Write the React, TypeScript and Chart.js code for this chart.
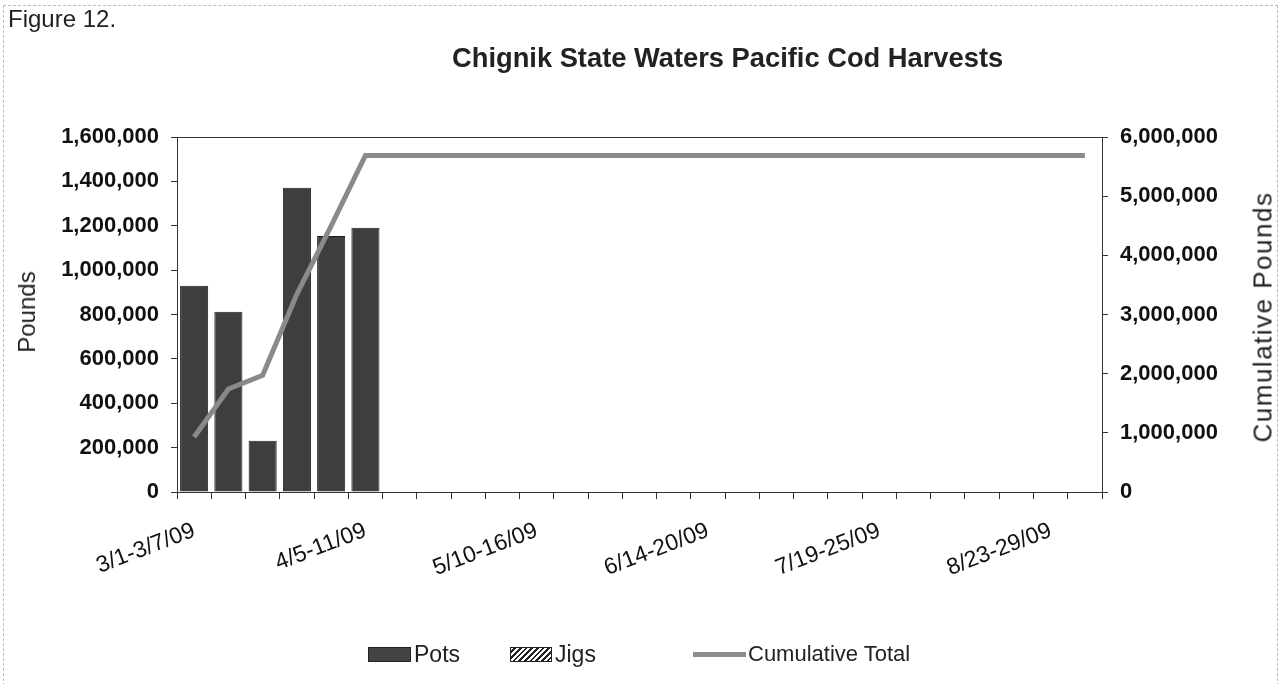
import React, { useEffect, useRef } from "react";
import { Chart, registerables } from "chart.js";

Chart.register(...registerables);

const weeks: string[] = [
  "3/1-3/7/09", "3/8-14/09", "3/15-21/09", "3/22-28/09", "3/29-4/4/09",
  "4/5-11/09", "4/12-18/09", "4/19-25/09", "4/26-5/2/09", "5/3-9/09",
  "5/10-16/09", "5/17-23/09", "5/24-30/09", "5/31-6/6/09", "6/7-13/09",
  "6/14-20/09", "6/21-27/09", "6/28-7/4/09", "7/5-11/09", "7/12-18/09",
  "7/19-25/09", "7/26-8/1/09", "8/2-8/09", "8/9-15/09", "8/16-22/09",
  "8/23-29/09", "8/30-9/5/09",
];

const potsPounds: number[] = [
  930000, 812000, 231000, 1371000, 1154000, 1191000, 0, 0, 0, 0,
  0, 0, 0, 0, 0, 0, 0, 0, 0, 0,
  0, 0, 0, 0, 0, 0, 0,
];

const jigsPounds: number[] = [
  0, 0, 0, 0, 0, 0, 0, 0, 0, 0,
  0, 0, 0, 0, 0, 0, 0, 0, 0, 0,
  0, 0, 0, 0, 0, 0, 0,
];

const cumulativeTotal: number[] = [
  930000, 1742000, 1973000, 3344000, 4498000, 5689000, 5689000, 5689000, 5689000, 5689000,
  5689000, 5689000, 5689000, 5689000, 5689000, 5689000, 5689000, 5689000, 5689000, 5689000,
  5689000, 5689000, 5689000, 5689000, 5689000, 5689000, 5689000,
];

const labelEvery = 5;
const leftMax = 1600000;
const leftStep = 200000;
const rightMax = 6000000;
const rightStep = 1000000;

const FONT = "'Liberation Sans', Arial, Helvetica, sans-serif";

function makeHatch(): CanvasPattern | string {
  const c = document.createElement("canvas");
  c.width = 6;
  c.height = 6;
  const ctx = c.getContext("2d");
  if (!ctx) return "#888";
  ctx.fillStyle = "#fff";
  ctx.fillRect(0, 0, 6, 6);
  ctx.strokeStyle = "#222";
  ctx.lineWidth = 2;
  ctx.beginPath();
  ctx.moveTo(0, 6);
  ctx.lineTo(6, 0);
  ctx.stroke();
  const p = ctx.createPattern(c, "repeat");
  return p || "#888";
}

const plotBorder = {
  id: "plotBorder",
  afterDatasetsDraw(chart: any) {
    const { ctx, chartArea } = chart;
    ctx.save();
    ctx.strokeStyle = "#333";
    ctx.lineWidth = 1;
    ctx.strokeRect(
      Math.round(chartArea.left) + 0.5,
      Math.round(chartArea.top) + 0.5,
      Math.round(chartArea.right - chartArea.left),
      Math.round(chartArea.bottom - chartArea.top)
    );
    ctx.restore();
  },
};

export default function App() {
  const canvasRef = useRef<HTMLCanvasElement | null>(null);

  useEffect(() => {
    if (!canvasRef.current) return;
    const hatch = makeHatch();
    const chart = new Chart(canvasRef.current, {
      type: "bar",
      data: {
        labels: weeks,
        datasets: [
          {
            type: "line",
            label: "Cumulative Total",
            data: cumulativeTotal,
            yAxisID: "y1",
            borderColor: "#8a8a8a",
            borderWidth: 5,
            pointRadius: 0,
            tension: 0,
            order: 0,
          } as any,
          {
            label: "Pots",
            data: potsPounds,
            yAxisID: "y",
            backgroundColor: "#3e3e3e",
            borderColor: "#1f1f1f",
            borderWidth: 1,
            barPercentage: 0.82,
            categoryPercentage: 1,
            order: 1,
          },
          {
            label: "Jigs",
            data: jigsPounds,
            yAxisID: "y",
            backgroundColor: hatch as any,
            borderColor: "#222",
            borderWidth: 0,
            barPercentage: 0.82,
            categoryPercentage: 1,
            order: 2,
          },
        ],
      },
      options: {
        responsive: false,
        animation: false,
        layout: { padding: { top: 137, left: 0, right: 0, bottom: 0 } },
        plugins: {
          legend: { display: false },
          title: { display: false },
          tooltip: { enabled: false },
        },
        scales: {
          x: {
            stacked: true,
            offset: true,
            grid: {
              offset: true,
              drawOnChartArea: false,
              drawTicks: true,
              tickLength: 7,
              color: "#333",
            },
            border: { display: true, color: "#333" },
            ticks: {
              autoSkip: false,
              minRotation: 21,
              maxRotation: 21,
              padding: 18,
              color: "#111",
              font: { family: FONT, size: 23 },
              callback: (_v: any, i: number) => (i % labelEvery === 0 ? weeks[i] : ""),
            },
            afterFit: (s: any) => {
              s.height = 192;
            },
          },
          y: {
            stacked: true,
            position: "left",
            min: 0,
            max: leftMax,
            grid: { drawOnChartArea: false, drawTicks: true, tickLength: 6, color: "#333" },
            border: { display: true, color: "#333" },
            ticks: {
              stepSize: leftStep,
              padding: 12,
              color: "#111",
              font: { family: FONT, size: 22, weight: "bold" },
              callback: (v: any) => Number(v).toLocaleString("en-US"),
            },
            afterFit: (s: any) => {
              s.width = 177;
            },
          },
          y1: {
            position: "right",
            min: 0,
            max: rightMax,
            grid: { drawOnChartArea: false, drawTicks: true, tickLength: 6, color: "#333" },
            border: { display: true, color: "#333" },
            ticks: {
              stepSize: rightStep,
              padding: 12,
              color: "#111",
              font: { family: FONT, size: 22, weight: "bold" },
              callback: (v: any) => Number(v).toLocaleString("en-US"),
            },
            afterFit: (s: any) => {
              s.width = 181;
            },
          },
        },
      },
      plugins: [plotBorder],
    });
    return () => chart.destroy();
  }, []);

  const abs = (o: React.CSSProperties): React.CSSProperties => ({ position: "absolute", ...o });

  return (
    <div style={{ position: "absolute", left: 0, top: 0, width: 1283, height: 684, background: "#fff", fontFamily: FONT, color: "#222", overflow: "hidden" }}>
      <div style={abs({ left: 3, top: 5, width: 1273, height: 690, borderTop: "1px dashed #bbb", borderLeft: "1px dashed #bbb", borderRight: "1px dashed #bbb" })} />
      <canvas ref={canvasRef} width={1283} height={684} style={abs({ left: 0, top: 0, width: 1283, height: 684 })} />
      <div style={abs({ left: 8, top: 5, fontSize: 24, lineHeight: "28px", whiteSpace: "nowrap" })}>Figure 12.</div>
      <div style={abs({ left: 452, top: 42, fontSize: 27.3, fontWeight: "bold", lineHeight: "32px", whiteSpace: "nowrap" })}>
        Chignik State Waters Pacific Cod Harvests
      </div>
      <div style={abs({ left: 27, top: 312, fontSize: 24, whiteSpace: "nowrap", transform: "translate(-50%, -50%) rotate(-90deg)" })}>Pounds</div>
      <div style={abs({ left: 1263, top: 317, fontSize: 26, letterSpacing: "1.5px", whiteSpace: "nowrap", transform: "translate(-50%, -50%) rotate(-90deg)" })}>
        Cumulative Pounds
      </div>
      <div style={abs({ left: 368, top: 647, width: 43, height: 15, background: "#444", border: "1px solid #222", boxSizing: "border-box" })} />
      <div style={abs({ left: 414, top: 640, fontSize: 23, lineHeight: "28px" })}>Pots</div>
      <div style={abs({ left: 510, top: 647, width: 42, height: 15, border: "1px solid #222", boxSizing: "border-box", background: "repeating-linear-gradient(135deg, #fff 0px, #fff 2px, #222 2px, #222 4px)" })} />
      <div style={abs({ left: 555, top: 640, fontSize: 23, lineHeight: "28px" })}>Jigs</div>
      <div style={abs({ left: 693, top: 652, width: 53, height: 5, background: "#8c8c8c" })} />
      <div style={abs({ left: 748, top: 640, fontSize: 22, lineHeight: "28px", whiteSpace: "nowrap" })}>Cumulative Total</div>
    </div>
  );
}
